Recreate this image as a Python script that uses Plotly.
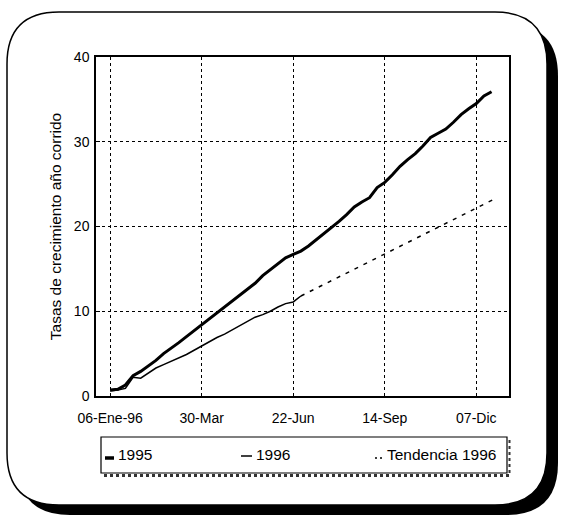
import pandas as pd
import plotly.graph_objects as go

W, H = 563, 520
L, R, T, B = 96, 509, 57, 396  # plot area in pixels

start_date = "1996-01-06"
values_1995 = [0.7, 0.8, 1.3, 2.4, 2.9, 3.5, 4.2, 5.0, 5.6, 6.3, 7.0, 7.7, 8.4, 9.1,
               9.8, 10.6, 11.3, 11.9, 12.6, 13.3, 14.2, 14.9, 15.6, 16.3, 16.7, 17.1,
               17.7, 18.4, 19.1, 19.8, 20.6, 21.4, 22.3, 22.9, 23.4, 24.6, 25.2, 26.1,
               27.1, 27.9, 28.6, 29.5, 30.5, 31.0, 31.5, 32.3, 33.2, 33.9, 34.5, 35.4,
               35.9]
values_1996 = [0.6, 0.7, 0.9, 2.2, 2.1, 2.7, 3.3, 3.7, 4.1, 4.5, 4.9, 5.4, 5.9, 6.5,
               6.9, 7.3, 7.8, 8.3, 8.8, 9.3, 9.6, 10.0, 10.5, 10.9, 11.1, 11.8]
trend_dates = ["1996-06-29", "1996-12-23"]
trend_values = [11.8, 23.2]

tick_dates = ["1996-01-06", "1996-03-30", "1996-06-22", "1996-09-14", "1996-12-07"]
tick_labels = ["06-Ene-96", "30-Mar", "22-Jun", "14-Sep", "07-Dic"]
y_ticks = [0, 10, 20, 30, 40]

dates_1995 = pd.date_range(start_date, periods=len(values_1995), freq="7D")
dates_1996 = pd.date_range(start_date, periods=len(values_1996), freq="7D")

FONT = "Liberation Sans, Arial, sans-serif"


def px(x):
    return (x - L) / (R - L)


def py(y):
    return (B - y) / (B - T)


def rrect(x0, y0, x1, y1, r):
    pts = [
        f"M {px(x0 + r)},{py(y0)}",
        f"L {px(x1 - r)},{py(y0)}",
        f"Q {px(x1)},{py(y0)} {px(x1)},{py(y0 + r)}",
        f"L {px(x1)},{py(y1 - r)}",
        f"Q {px(x1)},{py(y1)} {px(x1 - r)},{py(y1)}",
        f"L {px(x0 + r)},{py(y1)}",
        f"Q {px(x0)},{py(y1)} {px(x0)},{py(y1 - r)}",
        f"L {px(x0)},{py(y0 + r)}",
        f"Q {px(x0)},{py(y0)} {px(x0 + r)},{py(y0)}",
        "Z",
    ]
    return " ".join(pts)


fig = go.Figure()
fig.add_trace(go.Scatter(x=dates_1995, y=values_1995, mode="lines", name="1995",
                         line=dict(color="black", width=3), showlegend=False))
fig.add_trace(go.Scatter(x=dates_1996, y=values_1996, mode="lines", name="1996",
                         line=dict(color="black", width=1.5), showlegend=False))
fig.add_trace(go.Scatter(x=trend_dates, y=trend_values, mode="lines", name="Tendencia 1996",
                         line=dict(color="black", width=1.5, dash="4px,6px"), showlegend=False))

shapes = []
# frame shadow and frame
shapes.append(dict(type="path", xref="paper", yref="paper", layer="below",
                   path=rrect(18, 24, 558, 515, 52), fillcolor="black", line=dict(width=0)))
shapes.append(dict(type="path", xref="paper", yref="paper", layer="below",
                   path=rrect(7, 12, 547, 505, 52), fillcolor="white",
                   line=dict(color="black", width=1.5)))
# legend box shadow
shapes.append(dict(type="line", xref="paper", yref="paper", layer="below",
                   x0=px(104), x1=px(509), y0=py(475.5), y1=py(475.5),
                   line=dict(color="#333", width=3, dash="dot")))
shapes.append(dict(type="line", xref="paper", yref="paper", layer="below",
                   x0=px(509.5), x1=px(509.5), y0=py(440), y1=py(476),
                   line=dict(color="#333", width=2, dash="dot")))
# legend box
shapes.append(dict(type="rect", xref="paper", yref="paper", layer="below",
                   x0=px(101), x1=px(507), y0=py(437), y1=py(473),
                   fillcolor="white", line=dict(color="black", width=1.2)))
# legend samples
shapes.append(dict(type="line", xref="paper", yref="paper",
                   x0=px(105), x1=px(114), y0=py(458), y1=py(458),
                   line=dict(color="black", width=3.5)))
shapes.append(dict(type="line", xref="paper", yref="paper",
                   x0=px(241), x1=px(252), y0=py(456), y1=py(456),
                   line=dict(color="black", width=1.5)))
shapes.append(dict(type="line", xref="paper", yref="paper",
                   x0=px(375), x1=px(382), y0=py(458), y1=py(458),
                   line=dict(color="black", width=1.5, dash="2px,3px")))

annotations = []
for label, x0 in [("1995", 116), ("1996", 254), ("Tendencia 1996", 385)]:
    annotations.append(dict(text=label, xref="paper", yref="paper",
                            x=px(x0), y=py(455), xanchor="left", yanchor="middle",
                            showarrow=False, font=dict(family=FONT, size=15.5, color="black")))

fig.update_layout(
    width=W, height=H,
    margin=dict(l=L, r=W - R, t=T, b=H - B, pad=0),
    paper_bgcolor="white",
    plot_bgcolor="rgba(0,0,0,0)",
    font=dict(family=FONT, size=14, color="black"),
    shapes=shapes,
    annotations=annotations,
    showlegend=False,
)
fig.update_xaxes(
    type="date", range=["1995-12-24", "1997-01-06"],
    tickvals=tick_dates, ticktext=tick_labels,
    showline=True, linecolor="black", linewidth=1.5, mirror=True,
    showgrid=True, gridcolor="black", gridwidth=1, griddash="dot",
    ticks="", tickfont=dict(size=14), zeroline=False, ticklabelstandoff=8,
)
fig.update_yaxes(
    range=[0, 40], tickvals=y_ticks,
    showline=True, linecolor="black", linewidth=1.5, mirror=True,
    showgrid=True, gridcolor="black", gridwidth=1, griddash="dot",
    ticks="inside", ticklen=4, tickcolor="black", tickfont=dict(size=14),
    zeroline=False, ticklabelstandoff=2,
    title=dict(text="Tasas de crecimiento año corrido", font=dict(size=15.5), standoff=8),
)

fig.write_html("out.html", config={"displayModeBar": False},
               post_script="document.body.style.margin='0';document.body.style.overflow='hidden';")
